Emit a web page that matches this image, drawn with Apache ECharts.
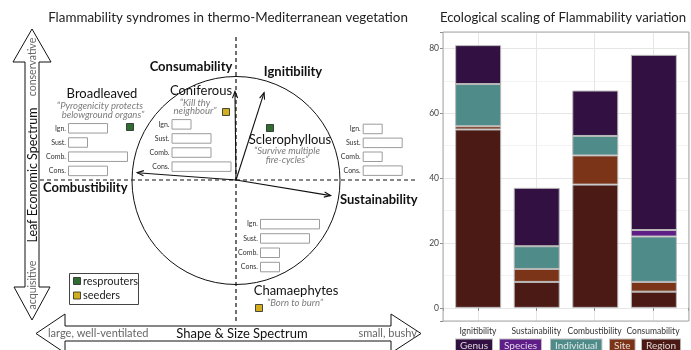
<!DOCTYPE html>
<html>
<head>
<meta charset="utf-8">
<script src="https://cdn.jsdelivr.net/npm/echarts@6/dist/echarts.min.js"></script>
<style>
html, body { margin: 0; padding: 0; background: #fff; }
#c { width: 691px; height: 350px; }
</style>
</head>
<body>
<div id="c"></div>
<script>
// ---- Ecological scaling panel (stacked bars) ----
const traits = ['Ignitibility', 'Sustainability', 'Combustibility', 'Consumability'];
const levels = ['Genus', 'Species', 'Individual', 'Site', 'Region'];
const region = [55, 8, 38, 5];
const site = [1, 4, 9, 3];
const individual = [13, 7, 6, 14];
const species = [0, 0, 0, 2];
const genus = [12, 18, 14, 54];

// ---- PCA loadings of the four flammability components ----
const loadingNames = ['Consumability', 'Ignitibility', 'Combustibility', 'Sustainability'];
const loadingX = [-0.01, 0.27, -0.95, 0.91];
const loadingY = [0.85, 0.84, 0.07, -0.15];

// ---- Syndrome profiles (Ign., Sust., Comb., Cons.) ----
const traitAbbr = ['Ign.', 'Sust.', 'Comb.', 'Cons.'];
const broadleaved = [2, 1, 3, 2];
const coniferous = [1, 2, 2, 3];
const sclerophyllous = [1, 2, 1, 2];
const chamaephytes = [3, 2.5, 1, 1];

const FONT = 'Lato, "Open Sans", sans-serif';
const levelColors = {
  Genus: '#321042', Species: '#5e1d87', Individual: '#4f8b89', Site: '#7c3418', Region: '#4c1a14'
};

const chart = echarts.init(document.getElementById('c'), null, { renderer: 'canvas' });

// panel box of the bar chart; discrete x range padded by 0.6 of a slot on each side
const P = { left: 443, top: 32, width: 246, height: 289 };
const slot = P.width / 4.2;
const Y_MIN = -4.05, Y_MAX = 85.05;
// biplot frame: origin and unit radius in pixels
const B = { cx: 236, cy: 180, unit: 104 };

// small profile-bar panels
const mini = [
  { data: broadleaved, left: 68, top: 121.2, height: 56.8 },
  { data: coniferous, left: 171.5, top: 117.3, height: 56.4 },
  { data: sclerophyllous, left: 362.7, top: 122, height: 55.6 },
  { data: chamaephytes, left: 260, top: 217, height: 57.2 }
];

// grid 0: panel frame (gridlines, ticks, labels); grid 1: biplot; grids 2-5: profiles; grid 6: bars
const grids = [
  { left: P.left, top: P.top, width: P.width, height: P.height },
  { left: B.cx - 2 * B.unit, top: B.cy - 1.5 * B.unit, width: 4 * B.unit, height: 3 * B.unit }
].concat(mini.map(m => ({ left: m.left, top: m.top, width: 60, height: m.height })))
 .concat([{ left: P.left + 0.1 * slot, top: P.top, width: 4 * slot, height: P.height }]);

const xAxes = [
  {
    type: 'value', gridIndex: 0, min: 0.4, max: 4.6, splitNumber: 4,
    axisLine: { show: false },
    axisTick: { show: true, length: 3, lineStyle: { color: '#8a8a8a' } },
    axisLabel: {
      fontFamily: FONT, fontSize: 8.5, color: '#333', margin: 6,
      formatter: v => (Number.isInteger(v) && traits[v - 1]) ? traits[v - 1] : ''
    },
    splitLine: { show: true, lineStyle: { color: '#e6e6e6', width: 1 } }
  },
  { type: 'value', gridIndex: 1, min: -2, max: 2, show: false }
].concat(mini.map((m, i) => ({ type: 'value', gridIndex: i + 2, min: 0, max: 3, show: false })))
 .concat([{ type: 'category', gridIndex: 6, data: traits, show: false, boundaryGap: true }]);

const yAxes = [
  { // minor gridlines every 10
    type: 'value', gridIndex: 0, position: 'left', min: Y_MIN, max: Y_MAX, splitNumber: 8,
    axisLine: { show: false }, axisTick: { show: false }, axisLabel: { show: false },
    splitLine: { show: true, lineStyle: { color: '#f3f3f3', width: 1 } }
  },
  { // major gridlines and labels every 20
    type: 'value', gridIndex: 0, position: 'left', min: Y_MIN, max: Y_MAX, splitNumber: 4,
    axisLine: { show: false },
    axisTick: { show: true, length: 3, lineStyle: { color: '#8a8a8a' } },
    axisLabel: {
      fontFamily: FONT, fontSize: 8.5, color: '#444', margin: 4,
      formatter: v => (v >= 0 && v <= 80 && v % 20 === 0) ? String(v) : ''
    },
    splitLine: { show: true, lineStyle: { color: '#e6e6e6', width: 1 } }
  },
  { type: 'value', gridIndex: 1, min: -1.5, max: 1.5, show: false }
].concat(mini.map((m, i) => ({
  type: 'category', gridIndex: i + 2, data: traitAbbr, inverse: true,
  axisLine: { show: false }, axisTick: { show: false }, splitLine: { show: false },
  axisLabel: { fontFamily: FONT, fontSize: 7, color: '#333', margin: 2 }
}))).concat([{ type: 'value', gridIndex: 6, min: Y_MIN, max: Y_MAX, show: false }]);

const barX = 6, barY = 7;
const stackOrder = [['Region', region], ['Site', site], ['Individual', individual], ['Species', species], ['Genus', genus]];
const series = stackOrder.map(([name, vals]) => ({
  name, type: 'bar', stack: 'scale', xAxisIndex: barX, yAxisIndex: barY,
  barWidth: 46,
  itemStyle: { color: levelColors[name], borderColor: '#b9b9b9', borderWidth: 1 },
  data: vals
}));

// loading arrows with open arrowheads
series.push({
  type: 'custom', coordinateSystem: 'cartesian2d', xAxisIndex: 1, yAxisIndex: 2, clip: false,
  data: loadingX.map((x, i) => [x, loadingY[i], loadingNames[i]]),
  renderItem: (params, api) => {
    const p0 = api.coord([0, 0]);
    const p1 = api.coord([api.value(0), api.value(1)]);
    const ang = Math.atan2(p1[1] - p0[1], p1[0] - p0[0]);
    const L = 7, spread = 0.38;
    const a = [p1[0] - L * Math.cos(ang - spread), p1[1] - L * Math.sin(ang - spread)];
    const b = [p1[0] - L * Math.cos(ang + spread), p1[1] - L * Math.sin(ang + spread)];
    const st = { stroke: '#111', lineWidth: 1.1, fill: null };
    return {
      type: 'group', children: [
        { type: 'line', shape: { x1: p0[0], y1: p0[1], x2: p1[0], y2: p1[1] }, style: st },
        { type: 'polyline', shape: { points: [a, p1, b] }, style: st }
      ]
    };
  }
});

// syndrome profile bars
mini.forEach((m, i) => {
  series.push({
    type: 'bar', xAxisIndex: i + 2, yAxisIndex: i + 3, barWidth: 10.5,
    itemStyle: { color: '#fff', borderColor: '#9c9c9c', borderWidth: 1 },
    data: m.data
  });
});

// ---- static drawing elements ----
function txt(x, y, text, font, fill, align, extra) {
  return Object.assign({
    type: 'text', x, y, silent: true,
    style: { text, font, fill, textAlign: align || 'center', align: align || 'center',
             textVerticalAlign: 'middle', verticalAlign: 'middle' }
  }, extra || {});
}
function square(x, y, color) {
  return { type: 'rect', silent: true, shape: { x: x - 3.5, y: y - 3.5, width: 7, height: 7 },
           style: { fill: color, stroke: '#222', lineWidth: 0.8 } };
}
const GREEN = '#2f6d31', YELLOW = '#d2ae1e';
const quoteFont = 'italic 9.5px ' + FONT;
const quoteCol = '#7a7a7a';
const nameFont = '13px ' + FONT;
const boldFont = 'bold 13px ' + FONT;

const g = [];
// titles
g.push(txt(228, 18, 'Flammability syndromes in thermo-Mediterranean vegetation', '13.4px ' + FONT, '#222'));
g.push(txt(563, 18, 'Ecological scaling of Flammability variation', '13.2px ' + FONT, '#222'));

// leaf economic spectrum (vertical double arrow)
g.push({ type: 'polygon', silent: true, shape: { points: [
  [32, 29], [51, 62], [39, 62], [39, 287], [50, 287], [32, 320], [14, 287], [25, 287], [25, 62], [13, 62]
] }, style: { fill: '#fff', stroke: '#111', lineWidth: 1 } });
g.push(txt(32.5, 67, 'conservative', '10.5px ' + FONT, '#666', 'center', { rotation: Math.PI / 2 }));
g.push(txt(32.5, 175, 'Leaf Economic Spectrum', '12.5px ' + FONT, '#111', 'center', { rotation: Math.PI / 2 }));
g.push(txt(32.5, 285, 'acquisitive', '10.5px ' + FONT, '#666', 'center', { rotation: Math.PI / 2 }));

// shape & size spectrum (horizontal double arrow)
g.push({ type: 'polygon', silent: true, shape: { points: [
  [36, 333.5], [65, 314], [65, 326], [391, 326], [391, 314], [421, 333.5], [391, 353], [391, 341], [65, 341], [65, 353]
] }, style: { fill: '#fff', stroke: '#111', lineWidth: 1 } });
g.push(txt(48, 333.5, 'large, well-ventilated', '11px ' + FONT, '#666', 'left'));
g.push(txt(242, 334, 'Shape & Size Spectrum', '13px ' + FONT, '#111'));
g.push(txt(417, 333.5, 'small, bushy', '11px ' + FONT, '#666', 'right'));

// biplot circle and dashed axes
g.push({ type: 'circle', silent: true, shape: { cx: B.cx, cy: B.cy + 0.5, r: B.unit },
         style: { fill: null, stroke: '#111', lineWidth: 1 } });
g.push({ type: 'line', silent: true, shape: { x1: 40, y1: B.cy, x2: 415, y2: B.cy },
         style: { stroke: '#111', lineWidth: 1.2, lineDash: [4, 3] } });
g.push({ type: 'line', silent: true, shape: { x1: B.cx, y1: 37, x2: B.cx, y2: 322 },
         style: { stroke: '#111', lineWidth: 1.2, lineDash: [4, 3] } });

// component labels
g.push(txt(191, 67, 'Consumability', boldFont, '#111'));
g.push(txt(293, 72, 'Ignitibility', boldFont, '#111'));
g.push(txt(43, 188, 'Combustibility', boldFont, '#111', 'left'));
g.push(txt(340, 200, 'Sustainability', boldFont, '#111', 'left'));

// syndromes
g.push(txt(102, 94, 'Broadleaved', nameFont, '#111'));
g.push(txt(100, 106, '\u201CPyrogenicity protects', quoteFont, quoteCol));
g.push(txt(103, 115, 'belowground organs\u201D', quoteFont, quoteCol));
g.push(square(130, 127, GREEN));

g.push(txt(201, 91, 'Coniferous', nameFont, '#111'));
g.push(txt(195, 102.5, '\u201CKill thy', quoteFont, quoteCol));
g.push(txt(195, 111, 'neighbour\u201D', quoteFont, quoteCol));
g.push(square(226, 112, YELLOW));

g.push(square(270, 128, GREEN));
g.push(txt(290, 140, 'Sclerophyllous', nameFont, '#111'));
g.push(txt(287, 150.5, '\u201CSurvive multiple', quoteFont, quoteCol));
g.push(txt(287, 160, 'fire-cycles\u201D', quoteFont, quoteCol));

g.push(txt(296, 291, 'Chamaephytes', nameFont, '#111'));
g.push(txt(295, 302.5, '\u201CBorn to burn\u201D', quoteFont, quoteCol));
g.push(square(259, 308, YELLOW));

// regeneration legend
g.push({ type: 'rect', silent: true, shape: { x: 69.5, y: 273.5, width: 69, height: 31 },
         style: { fill: '#fff', stroke: '#444', lineWidth: 1 } });
g.push(square(77, 281, GREEN));
g.push(txt(83, 281, 'resprouters', '11px ' + FONT, '#222', 'left'));
g.push(square(77, 295.5, YELLOW));
g.push(txt(83, 295.5, 'seeders', '11px ' + FONT, '#222', 'left'));

// bar panel border
g.push({ type: 'rect', silent: true, z: 50, shape: { x: P.left, y: P.top, width: P.width, height: P.height },
         style: { fill: null, stroke: '#a8a8a8', lineWidth: 1 } });

// scale legend (filled keys with labels)
const legendX = [456, 500, 551, 610, 642];
levels.forEach((name, i) => {
  g.push({
    type: 'text', silent: true, x: legendX[i], y: 339.5,
    style: {
      text: name, font: '10px ' + FONT, fill: 'rgba(255,255,255,0.82)',
      backgroundColor: levelColors[name], borderColor: '#bdbdbd', borderWidth: 1,
      padding: [1, 4, 1, 4], textAlign: 'left', align: 'left', textVerticalAlign: 'top', verticalAlign: 'top'
    }
  });
});

chart.setOption({
  animation: false,
  grid: grids,
  xAxis: xAxes,
  yAxis: yAxes,
  series: series,
  graphic: { elements: g }
});
</script>
</body>
</html>
